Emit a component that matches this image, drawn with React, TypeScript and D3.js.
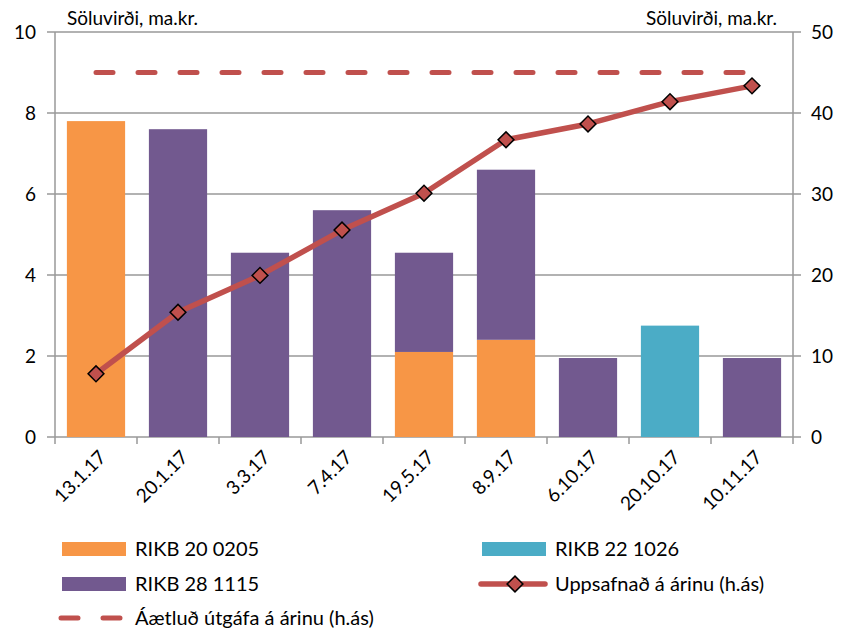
import React, { useRef, useEffect } from 'react';
import * as d3 from 'd3';

const dates = ['13.1.17', '20.1.17', '3.3.17', '7.4.17', '19.5.17', '8.9.17', '6.10.17', '20.10.17', '10.11.17'];
const rikb20 = [7.8, 0, 0, 0, 2.1, 2.4, 0, 0, 0];
const rikb22 = [0, 0, 0, 0, 0, 0, 0, 2.75, 0];
const rikb28 = [0, 7.6, 4.55, 5.6, 2.45, 4.2, 1.95, 0, 1.95];
const cumulative = [7.8, 15.4, 19.95, 25.55, 30.1, 36.7, 38.65, 41.4, 43.35];
const planned = 45;
const leftTicks = [0, 2, 4, 6, 8, 10];
const rightTicks = [0, 10, 20, 30, 40, 50];

const seriesNames = ['RIKB 20 0205', 'RIKB 22 1026', 'RIKB 28 1115'];
const colors = ['#F79646', '#4BACC6', '#72598F'];
const lineColour = '#C0504D';
const font = 'Lato, "Open Sans", sans-serif';

export default function App() {
  const svgRef = useRef<SVGSVGElement>(null);

  useEffect(() => {
    const width = 846;
    const height = 633;
    const marginLeft = 55;
    const marginRight = 53;
    const marginTop = 32;
    const plotBottom = 437;

    const svg = d3.select(svgRef.current);
    svg.selectAll('*').remove();
    svg.attr('width', width).attr('height', height)
      .style('font-family', font);

    const x = d3.scaleBand()
      .domain(dates)
      .range([marginLeft, width - marginRight])
      .paddingInner(0.29)
      .paddingOuter(0.145);

    const y = d3.scaleLinear().domain([0, 10]).range([plotBottom, marginTop]);
    const yr = d3.scaleLinear().domain([0, 50]).range([plotBottom, marginTop]);

    // gridlines
    svg.append('g')
      .selectAll('line')
      .data(leftTicks)
      .join('line')
      .attr('x1', marginLeft - 8)
      .attr('x2', width - marginRight + 8)
      .attr('y1', d => y(d))
      .attr('y2', d => y(d))
      .attr('stroke', '#999')
      .attr('stroke-width', 1.5);

    // axes lines
    svg.append('line')
      .attr('x1', marginLeft).attr('x2', marginLeft)
      .attr('y1', marginTop).attr('y2', plotBottom)
      .attr('stroke', '#999').attr('stroke-width', 1.5);
    svg.append('line')
      .attr('x1', width - marginRight).attr('x2', width - marginRight)
      .attr('y1', marginTop).attr('y2', plotBottom)
      .attr('stroke', '#999').attr('stroke-width', 1.5);

    // x ticks at band boundaries
    const step = x.step();
    const bounds = d3.range(dates.length + 1).map(i => marginLeft + i * step);
    svg.append('g')
      .selectAll('line')
      .data(bounds)
      .join('line')
      .attr('x1', d => d).attr('x2', d => d)
      .attr('y1', plotBottom).attr('y2', plotBottom + 7)
      .attr('stroke', '#999').attr('stroke-width', 1.5);

    // tick labels
    svg.append('g')
      .selectAll('text')
      .data(leftTicks)
      .join('text')
      .attr('x', 36)
      .attr('y', d => y(d))
      .attr('dy', '0.35em')
      .attr('text-anchor', 'end')
      .attr('font-size', 19)
      .attr('fill', '#000')
      .text(d => d);

    svg.append('g')
      .selectAll('text')
      .data(rightTicks)
      .join('text')
      .attr('x', width - marginRight + 18)
      .attr('y', d => yr(d))
      .attr('dy', '0.35em')
      .attr('text-anchor', 'start')
      .attr('font-size', 19)
      .attr('fill', '#000')
      .text(d => d);

    svg.append('g')
      .selectAll('text')
      .data(dates)
      .join('text')
      .attr('transform', d => `translate(${x(d)! + x.bandwidth() / 2 + 2},${plotBottom + 12}) rotate(-45)`)
      .attr('text-anchor', 'end')
      .attr('dy', '0.7em')
      .attr('font-size', 19)
      .text(d => d);

    // axis titles
    svg.append('text')
      .attr('x', 67).attr('y', 25)
      .attr('font-size', 19)
      .text('Söluvirði, ma.kr.');
    svg.append('text')
      .attr('x', 777).attr('y', 25)
      .attr('text-anchor', 'end')
      .attr('font-size', 19)
      .text('Söluvirði, ma.kr.');

    // stacked bars
    const rows = dates.map((d, i) => ({ date: d, a: rikb20[i], b: rikb22[i], c: rikb28[i] }));
    const stack = d3.stack<any>().keys(['a', 'b', 'c'])(rows);
    svg.append('g')
      .selectAll('g')
      .data(stack)
      .join('g')
      .attr('fill', (d, i) => colors[i])
      .selectAll('rect')
      .data(d => d.filter(p => p[1] - p[0] > 0))
      .join('rect')
      .attr('x', d => x(d.data.date)!)
      .attr('width', x.bandwidth())
      .attr('y', d => y(d[1]))
      .attr('height', d => y(d[0]) - y(d[1]));

    // planned dashed line
    const first = x(dates[0])! + x.bandwidth() / 2;
    const last = x(dates[dates.length - 1])! + x.bandwidth() / 2;
    svg.append('line')
      .attr('x1', first).attr('x2', last)
      .attr('y1', yr(planned)).attr('y2', yr(planned))
      .attr('stroke', lineColour)
      .attr('stroke-width', 5)
      .attr('stroke-linecap', 'round')
      .attr('stroke-dasharray', '17 25');

    // cumulative line
    const line = d3.line<number>()
      .x((d, i) => x(dates[i])! + x.bandwidth() / 2)
      .y(d => yr(d));
    svg.append('path')
      .datum(cumulative)
      .attr('d', line)
      .attr('fill', 'none')
      .attr('stroke', lineColour)
      .attr('stroke-width', 5.5)
      .attr('stroke-linejoin', 'round');

    const diamond = d3.symbol().type(d3.symbolSquare).size(125);
    svg.append('g')
      .selectAll('path')
      .data(cumulative)
      .join('path')
      .attr('d', diamond)
      .attr('transform', (d, i) => `translate(${x(dates[i])! + x.bandwidth() / 2},${yr(d)}) rotate(45)`)
      .attr('fill', lineColour)
      .attr('stroke', '#000')
      .attr('stroke-width', 1.5);

    // legend
    const legend = svg.append('g').attr('font-size', 20);
    const swatches = [
      { name: seriesNames[0], colour: colors[0], x: 62, y: 549 },
      { name: seriesNames[1], colour: colors[1], x: 482, y: 549 },
      { name: seriesNames[2], colour: colors[2], x: 62, y: 584 },
    ];
    swatches.forEach(s => {
      legend.append('rect')
        .attr('x', s.x).attr('y', s.y - 7)
        .attr('width', 64).attr('height', 14)
        .attr('fill', s.colour);
      legend.append('text')
        .attr('x', s.x + 73).attr('y', s.y)
        .attr('dy', '0.35em')
        .text(s.name);
    });

    legend.append('line')
      .attr('x1', 481).attr('x2', 545)
      .attr('y1', 584).attr('y2', 584)
      .attr('stroke', lineColour).attr('stroke-width', 5.5)
      .attr('stroke-linecap', 'round');
    legend.append('path')
      .attr('d', diamond)
      .attr('transform', 'translate(515,584) rotate(45)')
      .attr('fill', lineColour)
      .attr('stroke', '#000')
      .attr('stroke-width', 1.5);
    legend.append('text')
      .attr('x', 555).attr('y', 584)
      .attr('dy', '0.35em')
      .text('Uppsafnað á árinu (h.ás)');

    legend.append('line')
      .attr('x1', 61).attr('x2', 125)
      .attr('y1', 618).attr('y2', 618)
      .attr('stroke', lineColour).attr('stroke-width', 5)
      .attr('stroke-linecap', 'round')
      .attr('stroke-dasharray', '17 25');
    legend.append('text')
      .attr('x', 135).attr('y', 618)
      .attr('dy', '0.35em')
      .text('Áætluð útgáfa á árinu (h.ás)');
  }, []);

  return (
    <div style={{ margin: -8 }}>
      <svg ref={svgRef}></svg>
    </div>
  );
}
